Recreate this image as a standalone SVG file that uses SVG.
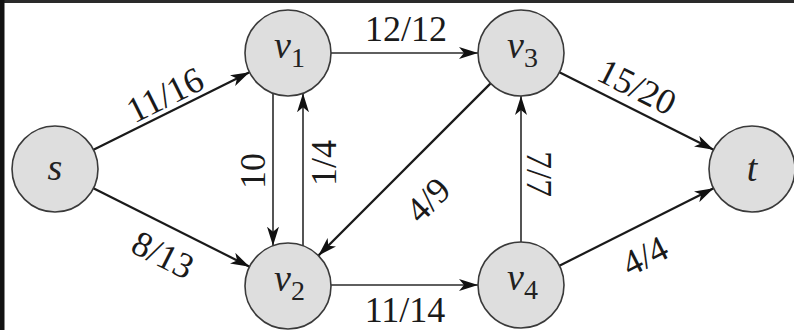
<svg xmlns="http://www.w3.org/2000/svg" width="794" height="330" viewBox="0 0 794 330">
<style>
text{font-family:"Liberation Serif","Tinos","Times New Roman","DejaVu Serif",serif}
.node circle{fill:#dedede;stroke:#3a3a3a;stroke-width:1.6}
.nl{font-size:38px;font-style:italic;fill:#222}
.sub{font-style:normal;font-size:28px}
.lbl{font-size:36px;fill:#1a1a1a;text-anchor:middle}
.e{stroke:#1a1a1a;stroke-width:2.2;fill:none;marker-end:url(#ah)}
.o{stroke:#2a2a2a;stroke-width:1.6;fill:none;marker-end:url(#ah)}
</style>
<defs>
<marker id="ah" markerUnits="userSpaceOnUse" markerWidth="20" markerHeight="12" viewBox="0 0 20 12" refX="19" refY="6" orient="auto">
<path d="M0,0 L19,6 L0,12 L5,6 z" fill="#111"/>
</marker>
</defs>
<rect x="0" y="0" width="794" height="330" fill="#fff"/>
<rect x="0" y="0" width="794" height="3" fill="#2a2a2a"/>
<rect x="0" y="0" width="4.5" height="330" fill="#121212"/>
<g id="connectors">
<line class="e" x1="93.5" y1="149.8" x2="249.5" y2="72.2"/>
<line class="e" x1="93.4" y1="188.3" x2="249.6" y2="266.7"/>
<line class="o" x1="331" y1="53" x2="478" y2="53"/>
<line class="o" x1="273" y1="93.3" x2="273" y2="245.7"/>
<line class="o" x1="303" y1="245.7" x2="303" y2="93.3"/>
<line class="e" x1="490.6" y1="83.4" x2="318.4" y2="255.6"/>
<line class="o" x1="521" y1="242" x2="521" y2="96"/>
<line class="e" x1="559.4" y1="72.3" x2="713.6" y2="149.7"/>
<line class="o" x1="331" y1="285" x2="478" y2="285"/>
<line class="e" x1="559.4" y1="265.7" x2="713.6" y2="188.3"/>
<text class="lbl" transform="translate(165,95) rotate(-26.5)" y="12">11/16</text>
<text class="lbl" transform="translate(163,255) rotate(26.7)" y="12">8/13</text>
<text class="lbl" x="406" y="41">12/12</text>
<text class="lbl" transform="translate(253,171) rotate(-90)" y="12">10</text>
<text class="lbl" transform="translate(324,163) rotate(-90)" y="12">1/4</text>
<text class="lbl" transform="translate(428,200) rotate(-45)" y="12">4/9</text>
<text class="lbl" transform="translate(539,174) rotate(90)" y="12">7/7</text>
<text class="lbl" transform="translate(637,87) rotate(26.7)" y="12">15/20</text>
<text class="lbl" x="405" y="322">11/14</text>
<text class="lbl" transform="translate(645,256) rotate(-26.7)" y="12">4/4</text>
</g>
<g id="s" class="node"><circle cx="55" cy="169" r="43"/><text class="nl" x="55" y="180" text-anchor="middle">s</text></g>
<g id="v1" class="node"><circle cx="288" cy="53" r="43"/><text class="nl" x="274" y="58">v<tspan class="sub" dy="9">1</tspan></text></g>
<g id="v2" class="node"><circle cx="288" cy="286" r="43"/><text class="nl" x="274" y="291">v<tspan class="sub" dy="9">2</tspan></text></g>
<g id="v3" class="node"><circle cx="521" cy="53" r="43"/><text class="nl" x="507" y="58">v<tspan class="sub" dy="9">3</tspan></text></g>
<g id="v4" class="node"><circle cx="521" cy="285" r="43"/><text class="nl" x="507" y="290">v<tspan class="sub" dy="9">4</tspan></text></g>
<g id="t" class="node"><circle cx="752" cy="169" r="43"/><text class="nl" x="752" y="181" text-anchor="middle">t</text></g>
</svg>
